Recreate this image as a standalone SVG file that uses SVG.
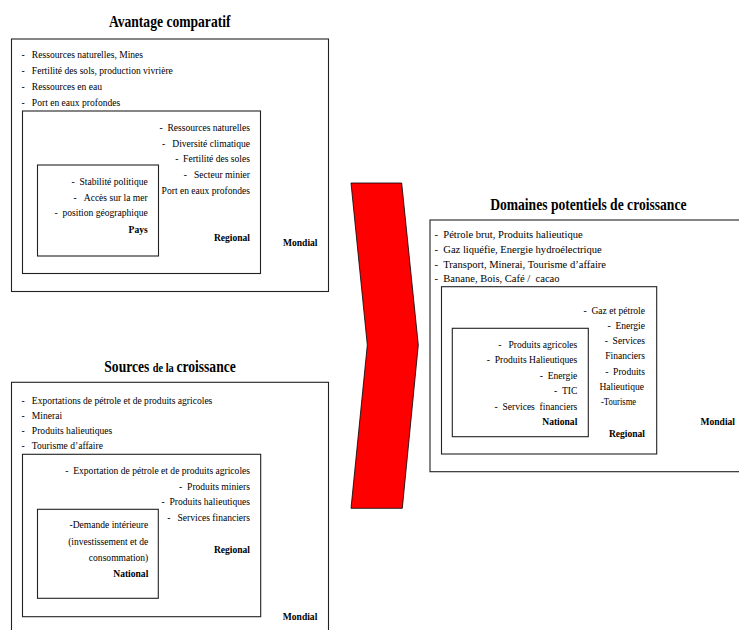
<svg xmlns="http://www.w3.org/2000/svg" width="739" height="630" viewBox="0 0 739 630">
<style>
text { font-family: "Liberation Serif", "Times New Roman", serif; font-size: 11px; fill: #000; }
.b { font-weight: bold; }
.h { font-size: 17px; font-weight: bold; }
.e { text-anchor: end; }
.m { text-anchor: middle; }
.box { fill: none; stroke: #222; stroke-width: 1.1; }
.arrow { fill: #ff0000; stroke: #000; stroke-width: 0.8; }
</style>
<rect width="739" height="630" fill="#fff"/>

<g id="avantage-comparatif">
  <text class="h m" transform="translate(169.7 27) scale(.8 1)">Avantage comparatif</text>
  <rect class="box" x="11.5" y="39" width="317" height="252.5"/>
  <text transform="translate(21.5 57.5) scale(.87 1)">-&#160;&#160;&#160;Ressources naturelles, Mines</text>
  <text transform="translate(21.5 73.5) scale(.87 1)">-&#160;&#160;&#160;Fertilité des sols, production vivrière</text>
  <text transform="translate(21.5 89.5) scale(.87 1)">-&#160;&#160;&#160;Ressources en eau</text>
  <text transform="translate(21.5 105.5) scale(.87 1)">-&#160;&#160;&#160;Port en eaux profondes</text>
  <text class="b e" transform="translate(317.5 245.5) scale(.87 1)">Mondial</text>
  <g id="avantage-regional">
    <rect class="box" x="22.5" y="111" width="238" height="162.5"/>
    <text class="e" transform="translate(250 131) scale(.87 1)">-&#160;&#160;Ressources naturelles</text>
    <text class="e" transform="translate(250 146.7) scale(.87 1)">-&#160;&#160;&#160;Diversité climatique</text>
    <text class="e" transform="translate(250 162.3) scale(.87 1)">-&#160;&#160;Fertilité des soles</text>
    <text class="e" transform="translate(250 178) scale(.87 1)">-&#160;&#160;&#160;Secteur minier</text>
    <text class="e" transform="translate(250 193.7) scale(.87 1)">Port en eaux profondes</text>
    <text class="b e" transform="translate(250 241) scale(.87 1)">Regional</text>
  </g>
  <g id="avantage-pays">
    <rect class="box" x="37.5" y="165" width="121" height="91"/>
    <text class="e" transform="translate(147.7 185) scale(.87 1)">-&#160;&#160;Stabilité politique</text>
    <text class="e" transform="translate(147.7 200.5) scale(.87 1)">-&#160;&#160;&#160;Accès sur la mer</text>
    <text class="e" transform="translate(147.7 216) scale(.87 1)">-&#160;&#160;position géographique</text>
    <text class="b e" transform="translate(147.7 233) scale(.87 1)">Pays</text>
  </g>
</g>

<g id="sources-croissance">
  <text class="b" transform="translate(104.3 371.7) scale(.8 1)"><tspan font-size="17">Sources </tspan><tspan font-size="13">de la </tspan><tspan font-size="17">croissance</tspan></text>
  <rect class="box" x="11.5" y="382.3" width="317" height="270"/>
  <text transform="translate(21.5 403.5) scale(.87 1)">-&#160;&#160;&#160;Exportations de pétrole et de produits agricoles</text>
  <text transform="translate(21.5 418.5) scale(.87 1)">-&#160;&#160;&#160;Minerai</text>
  <text transform="translate(21.5 433.5) scale(.87 1)">-&#160;&#160;&#160;Produits halieutiques</text>
  <text transform="translate(21.5 448.5) scale(.87 1)">-&#160;&#160;&#160;Tourisme d’affaire</text>
  <text class="b e" transform="translate(317.3 620) scale(.87 1)">Mondial</text>
  <g id="sources-regional">
    <rect class="box" x="22.5" y="454.3" width="238.2" height="162.4"/>
    <text class="e" transform="translate(250 474) scale(.87 1)">-&#160;&#160;Exportation de pétrole et de produits agricoles</text>
    <text class="e" transform="translate(250 489.5) scale(.87 1)">-&#160;&#160;Produits miniers</text>
    <text class="e" transform="translate(250 505) scale(.87 1)">-&#160;&#160;Produits halieutiques</text>
    <text class="e" transform="translate(250 520.5) scale(.87 1)">-&#160;&#160;&#160;Services financiers</text>
    <text class="b e" transform="translate(250 553.3) scale(.87 1)">Regional</text>
  </g>
  <g id="sources-national">
    <rect class="box" x="37.5" y="509.3" width="120.8" height="89"/>
    <text class="e" transform="translate(148.3 528) scale(.87 1)">-Demande intérieure</text>
    <text class="e" transform="translate(148.3 544.5) scale(.87 1)">(investissement et de</text>
    <text class="e" transform="translate(148.3 561) scale(.87 1)">consommation)</text>
    <text class="b e" transform="translate(148.3 576.5) scale(.87 1)">National</text>
  </g>
</g>

<g id="domaines-potentiels">
  <text class="h m" transform="translate(588.3 209.5) scale(.8 1)">Domaines potentiels de croissance</text>
  <rect class="box" x="430" y="220" width="330" height="251.7"/>
  <text transform="translate(434.5 237.8) scale(.96 1)">-&#160;&#160;Pétrole brut, Produits halieutique</text>
  <text transform="translate(434.5 252.8) scale(.96 1)">-&#160;&#160;Gaz liquéfie, Energie hydroélectrique</text>
  <text transform="translate(434.5 267.5) scale(.96 1)">-&#160;&#160;Transport, Minerai, Tourisme d’affaire</text>
  <text transform="translate(434.5 281.8) scale(.96 1)">-&#160;&#160;Banane, Bois, Café /&#160;&#160;cacao</text>
  <text class="b e" transform="translate(735 424.5) scale(.87 1)">Mondial</text>
  <g id="domaines-regional">
    <rect class="box" x="441.5" y="286.7" width="215.2" height="167.3"/>
    <text class="e" transform="translate(645 313.5) scale(.87 1)">-&#160;&#160;Gaz et pétrole</text>
    <text class="e" transform="translate(645 328.5) scale(.87 1)">-&#160;&#160;Energie</text>
    <text class="e" transform="translate(645 343.5) scale(.87 1)">-&#160;&#160;Services</text>
    <text class="e" transform="translate(645 359) scale(.87 1)">Financiers</text>
    <text class="e" transform="translate(645 374.5) scale(.87 1)">-&#160;&#160;Produits</text>
    <text class="e" transform="translate(644 389.5) scale(.87 1)">Halieutique</text>
    <text transform="translate(601 404.5) scale(.78 1)">-Tourisme</text>
    <text class="b e" transform="translate(645 436.5) scale(.87 1)">Regional</text>
  </g>
  <g id="domaines-national">
    <rect class="box" x="452.3" y="328.3" width="136" height="108.4"/>
    <text class="e" transform="translate(577.3 347.5) scale(.87 1)">-&#160;&#160;&#160;Produits agricoles</text>
    <text class="e" transform="translate(577.3 363) scale(.87 1)">-&#160;&#160;Produits Halieutiques</text>
    <text class="e" transform="translate(577.3 378.5) scale(.87 1)">-&#160;&#160;Energie</text>
    <text class="e" transform="translate(577.3 394) scale(.87 1)">-&#160;&#160;TIC</text>
    <text class="e" transform="translate(577.3 409.5) scale(.87 1)">-&#160;&#160;Services&#160;&#160;financiers</text>
    <text class="b e" transform="translate(577.3 424.5) scale(.87 1)">National</text>
  </g>
</g>

<g id="connectors">
  <polygon class="arrow" points="351,183 401.7,183 418.3,345 402.3,508.3 351,508.3 367.3,345"/>
</g>
</svg>
